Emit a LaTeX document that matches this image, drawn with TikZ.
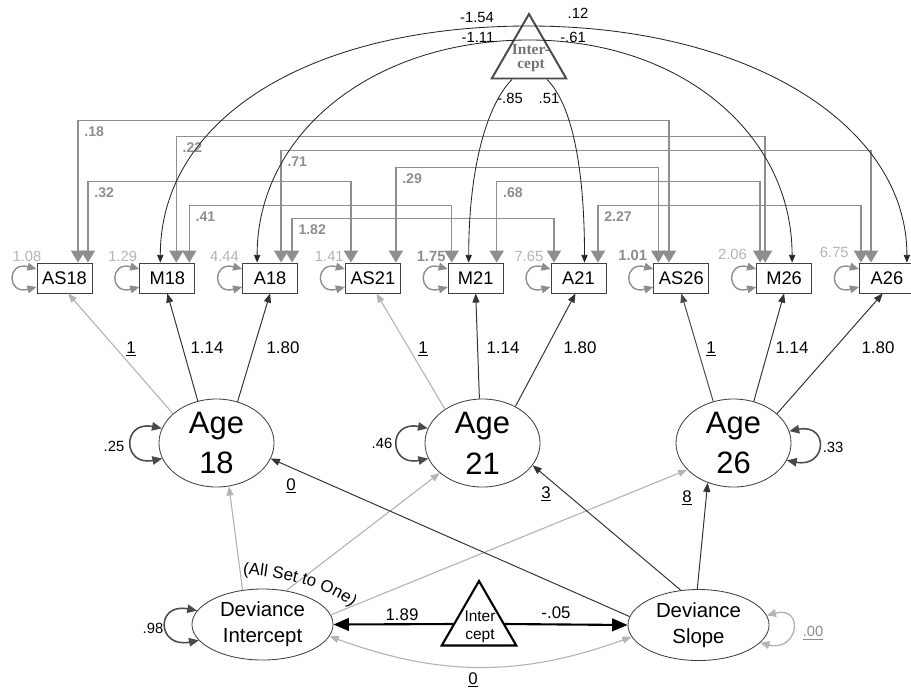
\documentclass[tikz,border=0pt]{standalone}
\usepackage{fontspec}
\setmainfont{Liberation Sans}
\newfontfamily\capfont{Liberation Serif}
\usepackage{tikz}
\usetikzlibrary{positioning,arrows.meta,calc,shapes.geometric,decorations.text}
\definecolor{lgray}{HTML}{B4B4B4}
\definecolor{mgray}{HTML}{8E8E8E}
\definecolor{dgray}{HTML}{4A4A4A}

\begin{document}
\begin{tikzpicture}[x=0.025cm, y=0.025cm, >=Stealth, font=\fontsize{12}{12}\selectfont,
      obs/.style={draw=black!75, line width=0.6pt, minimum width=1.375cm, minimum height=0.75cm, inner sep=0pt, font=\fontsize{13}{13}\selectfont},
      lat/.style={draw=black!75, line width=0.6pt, ellipse, minimum width=2.875cm, minimum height=2.2cm, inner sep=0pt, inner ysep=-8pt, align=center, font=\fontsize{22}{29}\selectfont},
      dev/.style={draw=black!75, line width=0.6pt, ellipse, minimum width=3.525cm, minimum height=1.775cm, inner sep=0pt, inner ysep=-6pt, align=center, font=\fontsize{14.5}{18.5}\selectfont},
      tri/.style={regular polygon, regular polygon sides=3, minimum size=2.15cm, inner sep=0pt},
      cov/.style={draw=mgray, line width=1.1pt, {Triangle[length=8.5pt,width=10pt]}-{Triangle[length=8.5pt,width=10pt]}},
      blk/.style={draw=black!85, line width=0.6pt, -{Triangle[length=5.5pt,width=4.5pt]}},
      load/.style={draw=black!80, line width=0.7pt, -{Triangle[length=6.5pt,width=5pt]}},
      lload/.style={draw=lgray, line width=0.8pt, -{Triangle[length=6.5pt,width=5pt]}},
      heavy/.style={draw=black, line width=1.5pt, -{Triangle[length=11pt,width=9pt]}},
      vloop/.style={draw=mgray, line width=1pt, {Triangle[length=6.5pt,width=5.5pt]}-{Triangle[length=6.5pt,width=5.5pt]}},
      aloop/.style={draw=dgray, line width=1.1pt, {Triangle[length=7pt,width=6pt]}-{Triangle[length=7pt,width=6pt]}},
      nlab/.style={inner sep=1pt},
      slab/.style={inner sep=1pt, font=\fontsize{10.5}{10.5}\selectfont},
      clab/.style={text=mgray, inner sep=4pt, font=\fontsize{10}{10}\selectfont\bfseries},
      vlab/.style={inner sep=0pt, font=\fontsize{10.5}{10.5}\selectfont}]
  \useasboundingbox (0,0) rectangle (911,-692);

  % indicators
  \node[obs] (AS18) at (64.5,-278) {AS18};
  \node[obs] (M18) at (167.3,-278) {M18};
  \node[obs] (A18) at (270.1,-278) {A18};
  \node[obs] (AS21) at (372.9,-278) {AS21};
  \node[obs] (M21) at (475.7,-278) {M21};
  \node[obs] (A21) at (578.5,-278) {A21};
  \node[obs] (AS26) at (681.3,-278) {AS26};
  \node[obs] (M26) at (784.1,-278) {M26};
  \node[obs] (A26) at (886.9,-278) {A26};

  % latent variables
  \node[lat] (age18) at (216.5,-443) {Age\\18};
  \node[lat] (age21) at (482.5,-443) {Age\\21};
  \node[lat] (age26) at (733.5,-443) {Age\\26};
  \node[dev] (devint) at (262.5,-624.5) {Deviance\\Intercept};
  \node[dev] (devslope) at (698.5,-625) {Deviance\\Slope};

  % intercepts
  \node[tri, draw=dgray, line width=1.4pt] (topint) at (529,-57) {};
  \node[text=black!55, align=center, inner sep=0pt, font=\fontsize{11}{10.5}\selectfont\capfont\bfseries] (topintlab) at (531,-58) {Inter-\\cept};
  \node[tri, draw=black, line width=1.5pt] (botint) at (479,-624) {};
  \node[align=center, inner sep=0pt, font=\fontsize{11}{13}\selectfont] (botintlab) at (480,-627) {Inter\\cept};

  % residual covariances
  \draw[cov] ($(AS18.north)+(13.5,0)$) -- ++(0,142) node[clab, pos=1, anchor=north west] (c1) {.18} -| ($(AS26.north)+(-12.3,0)$);
  \draw[cov] ($(M18.north)+(9,0)$) -- ++(0,126) node[clab, pos=1, anchor=north west] (c2) {.22} -| ($(M26.north)+(-19,0)$);
  \draw[cov] ($(A18.north)+(11,0)$) -- ++(0,112) node[clab, pos=1, anchor=north west] (c3) {.71} -| ($(A26.north)+(-16,0)$);
  \draw[cov] ($(AS21.north)+(23,0)$) -- ++(0,95) node[clab, pos=1, anchor=north west] (c4) {.29} -| ($(AS26.north)+(-23,0)$);
  \draw[cov] ($(AS18.north)+(23.5,0)$) -- ++(0,81) node[clab, pos=1, anchor=north west] (c5) {.32} -| ($(AS21.north)+(-22,0)$);
  \draw[cov] ($(M21.north)+(21,0)$) -- ++(0,81) node[clab, pos=1, anchor=north west] (c6) {.68} -| ($(M26.north)+(-24,0)$);
  \draw[cov] ($(M18.north)+(22,0)$) -- ++(0,57) node[clab, pos=1, anchor=north west] (c7) {.41} -| ($(M21.north)+(-24,0)$);
  \draw[cov] ($(A21.north)+(19.5,0)$) -- ++(0,57) node[clab, pos=1, anchor=north west] (c8) {2.27} -| ($(A26.north)+(-26,0)$);
  \draw[cov] ($(A18.north)+(22,0)$) -- ++(0,44) node[clab, pos=1, anchor=north west] (c9) {1.82} -| ($(A21.north)+(-24.5,0)$);

  % error variances
  \foreach \n/\v/\c/\f/\dx/\dy in {AS18/1.08/lgray/\mdseries/5/1, M18/1.29/lgray/\mdseries/-2/1, A18/4.44/lgray/\mdseries/-3/1,
      AS21/1.41/lgray/\mdseries/-1/1, M21/1.75/mgray/\bfseries/-2/1, A21/7.65/lgray/\mdseries/-7/1,
      AS26/1.01/mgray/\bfseries/-6/2, M26/2.06/lgray/\mdseries/-9/3, A26/6.75/lgray/\mdseries/-10/5}{
    \draw[vloop] ($(\n.west)+(0,9)$) .. controls +(-30,8) and +(-30,-8) .. ($(\n.west)+(0,-9)$);
    \node[vlab, text=\c, anchor=base east] (v\n) at ($(\n.north west)+(\dx,\dy)$) {\f\v};
  }

  % intercept means
  \coordinate (ta) at (529,-26);
  \coordinate (tb) at (529,-40);
  \draw[blk] (ta) .. controls +(-221,0) and +(0,143) .. ($(M18.north)+(-7,0)$);
  \draw[blk] (tb) .. controls +(-158,0) and +(0,128) .. ($(A18.north)+(-13,0)$);
  \draw[blk] (ta) .. controls +(219,0) and +(0,138) .. ($(A26.north)+(20,0)$);
  \draw[blk] (tb) .. controls +(153,0) and +(0,128) .. ($(M26.north)+(8,0)$);
  \draw[blk] ($(topint.south)+(-17,0)$) .. controls +(-25,-25) and +(0,95) .. ($(M21.north)+(-7,0)$);
  \draw[blk] ($(topint.south)+(18,0)$) .. controls +(25,-25) and +(0,95) .. ($(A21.north)+(6,0)$);
  \node[slab] (m1) at (477,-17) {-1.54};
  \node[slab] (m2) at (578,-13) {.12};
  \node[slab] (m3) at (478,-37) {-1.11};
  \node[slab] (m4) at (573,-37) {-.61};
  \node[slab] (m5) at (510,-98) {-.85};
  \node[slab] (m6) at (549,-98) {.51};

  % loadings
  \draw[lload] (age18.146) -- (AS18.-77);
  \draw[load] (age18.114) -- (M18.south);
  \draw[load] (age18.63) -- (A18.south);
  \draw[lload] (age21.138) -- (AS21.-77);
  \draw[load] (age21.94) -- (M21.south);
  \draw[load] (age21.48) -- (A21.-101);
  \draw[load, draw=dgray] (age26.116) -- (AS26.south);
  \draw[load] (age26.64) -- (M26.south);
  \draw[load] (age26.34) -- (A26.-105);
  \node[nlab] (l1) at (131,-349) {\underline{1}};
  \node[nlab] (l2) at (207,-348) {1.14};
  \node[nlab] (l3) at (283,-348) {1.80};
  \node[nlab] (l4) at (423,-349) {\underline{1}};
  \node[nlab] (l5) at (503,-348) {1.14};
  \node[nlab] (l6) at (580,-348) {1.80};
  \node[nlab] (l7) at (711,-349) {\underline{1}};
  \node[nlab] (l8) at (792,-348) {1.14};
  \node[nlab] (l9) at (878,-348) {1.80};

  % latent variances
  \draw[aloop] (age18.165) .. controls +(-40,8) and +(-40,-8) .. (age18.196);
  \draw[aloop] (age21.165) .. controls +(-40,8) and +(-40,-8) .. (age21.196);
  \draw[aloop] (age26.12) .. controls +(40,8) and +(40,-8) .. (age26.-18);
  \draw[aloop] (devint.168) .. controls +(-42,8) and +(-42,-8) .. (devint.194);
  \draw[vloop, draw=lgray] (devslope.8) .. controls +(38,10) and +(38,-10) .. (devslope.-16);
  \node[slab] (s1) at (114,-446) {.25};
  \node[slab] (s2) at (382,-443) {.46};
  \node[slab] (s3) at (833,-447) {.33};
  \node[slab] (s4) at (153,-628) {.98};
  \node[slab, text=mgray] (s5) at (813,-633) {\underline{.00}};

  % growth paths
  \draw[lload] (devint.120) -- (age18.-74);
  \draw[lload] (devint.55) -- (age21.-145);
  \draw[lload] (devint.8) -- (age26.-150);
  \draw[load] (devslope.173) -- (age18.-16);
  \draw[load] (devslope.117) -- (age21.-24);
  \draw[load] (devslope.92) -- (age26.-123);
  \node[nlab] (g1) at (291,-486) {\underline{0}};
  \node[nlab] (g2) at (546,-494) {\underline{3}};
  \node[nlab] (g3) at (687,-498) {\underline{8}};
  \path[decorate, decoration={text along path, text align=center,
      text={|\fontsize{12}{12}\selectfont|(All Set to One)}}]
    (242,-574) .. controls (280,-576) and (332,-588) .. (352,-608);

  % growth means and covariance
  \draw[heavy] (botint.180) -- (devint.east);
  \draw[heavy] (botint.0) -- (devslope.west);
  \draw[lload, {Triangle[length=6.5pt,width=5pt]}-{Triangle[length=6.5pt,width=5pt]}] (devint.-10) to[out=-20, in=-160] (devslope.-170);
  \node[nlab] (b1) at (402,-615) {1.89};
  \node[nlab] (b2) at (556,-613) {-.05};
  \node[nlab] (b3) at (473,-680) {\underline{0}};
\end{tikzpicture}
\end{document}
